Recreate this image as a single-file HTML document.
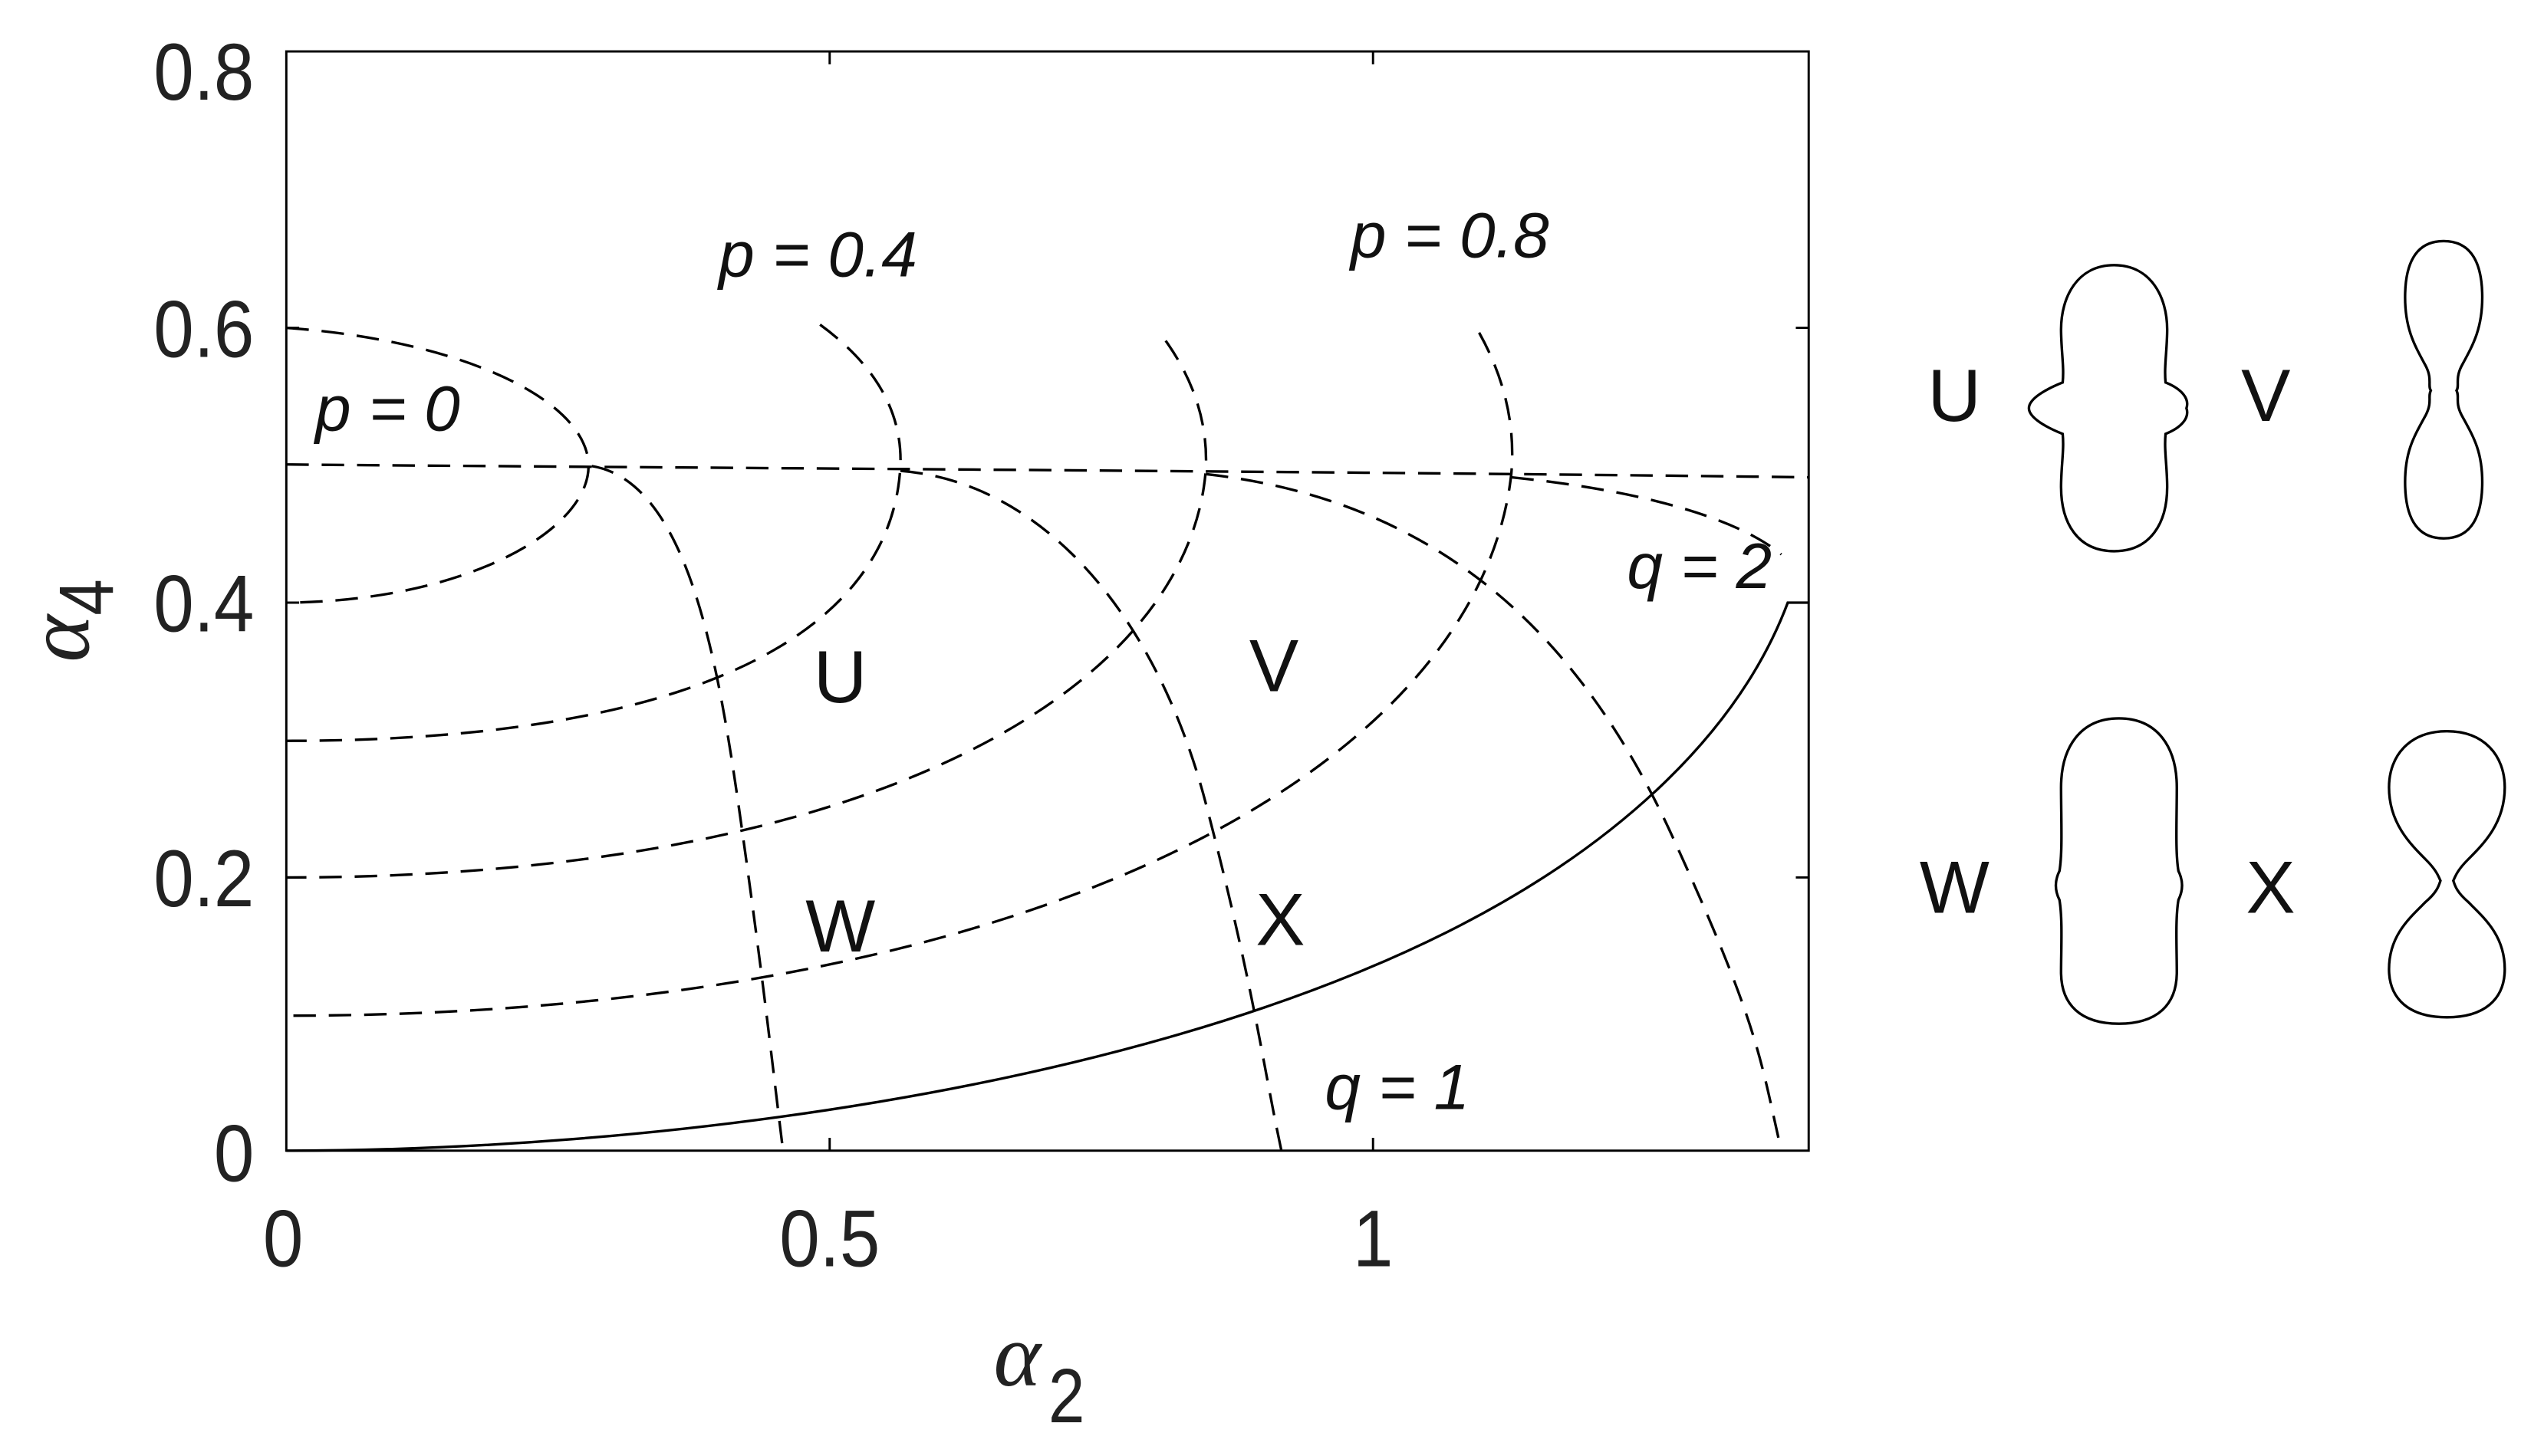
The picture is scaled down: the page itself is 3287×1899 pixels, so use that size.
<!DOCTYPE html>
<html><head><meta charset="utf-8"><style>html,body{margin:0;padding:0;background:#fff}svg{display:block}</style></head>
<body>
<svg width="3287" height="1899" viewBox="0 0 1568 906" xmlns="http://www.w3.org/2000/svg" font-family="Liberation Sans, sans-serif">
<rect x="0" y="0" width="1568" height="906" fill="#fff"/>
<g fill="none" stroke="#000" stroke-width="1.4">
<rect x="178" y="32" width="947" height="684"/>
<path d="M516,716v-8M854,716v-8M516,32v8M854,32v8M178,204h8M178,375h8M178,546h8M1125,204h-8M1125,375h-8M1125,546h-8"/>
</g>
<g fill="none" stroke="#000" stroke-width="1.6" stroke-dasharray="14,8">
<path d="M178,204 C290,212 366,250 366,290 C366,330 290,374 178,375"/>
<path d="M178,289 C400,291 800,293 1125,297"/>
<path d="M510,202 Q562,240 560,290 C555,385 450,461 178,461"/>
<path d="M725,212 Q752,250 750,292 C740,425 550,546 178,546"/>
<path d="M920,207 Q944,250 940,295 C920,475 650,632 178,632"/>
<path d="M368,290 C430,300 448,420 462,520 S480,660 487,716"/>
<path d="M560,293 C650,300 720,385 750,500 S785,660 797,716"/>
<path d="M750,295 C900,312 985,400 1040,520 S1095,660 1108,716"/>
<path d="M940,297 C1020,305 1080,322 1108,345"/>
</g>
<path d="M178,716 C400,716 700,680 900,580 C1000,530 1080,460 1112,375 L1125,375" fill="none" stroke="#000" stroke-width="1.6"/>
<g font-size="50" fill="#222">
<text transform="translate(158,62) scale(0.9,1)" text-anchor="end">0.8</text>
<text transform="translate(158,222) scale(0.9,1)" text-anchor="end">0.6</text>
<text transform="translate(158,393) scale(0.9,1)" text-anchor="end">0.4</text>
<text transform="translate(158,564) scale(0.9,1)" text-anchor="end">0.2</text>
<text transform="translate(158,735) scale(0.9,1)" text-anchor="end">0</text>
<text transform="translate(176,788) scale(0.9,1)" text-anchor="middle">0</text>
<text transform="translate(516,788) scale(0.9,1)" text-anchor="middle">0.5</text>
<text transform="translate(854,788) scale(0.9,1)" text-anchor="middle">1</text>
</g>
<g font-family="Liberation Serif, serif" font-style="italic" fill="#222">
<text x="618" y="862" font-size="56">α</text>
<text transform="translate(652,885) scale(0.85,1)" font-size="48" font-style="normal" font-family="Liberation Sans, sans-serif">2</text>
<text transform="translate(55,412) rotate(-90)" font-size="56">α</text>
<text transform="translate(70,383) rotate(-90) scale(0.85,1)" font-size="48" font-style="normal" font-family="Liberation Sans, sans-serif">4</text>
</g>
<g font-size="40" font-style="italic" fill="#111">
<text x="447" y="172">p = 0.4</text>
<text x="840" y="160">p = 0.8</text>
<text x="196" y="268">p = 0</text>
<text x="1012" y="366">q = 2</text>
<text x="824" y="690">q = 1</text>
</g>
<g font-size="46" fill="#111">
<text x="506" y="437">U</text>
<text x="777" y="430">V</text>
<text x="501" y="592">W</text>
<text x="781" y="588">X</text>
<text x="1199" y="262">U</text>
<text x="1394" y="262">V</text>
<text x="1194" y="568">W</text>
<text x="1397" y="568">X</text>
</g>
<g fill="none" stroke="#000" stroke-width="1.6">
<path d="M1315,165 C1338,165 1348,185 1348,205 C1348,218 1346,228 1347,238 C1357,242 1362,248 1360,254 C1362,260 1357,266 1347,270 C1346,280 1348,290 1348,303 C1348,325 1338,343 1315,343 C1292,343 1282,325 1282,303 C1282,290 1284,280 1283,270 C1273,266 1262,260 1262,254 C1262,248 1273,242 1283,238 C1284,228 1282,218 1282,205 C1282,185 1292,165 1315,165Z"/>
<path d="M1520,150 C1538,150 1544,165 1544,185 C1544,205 1538,215 1531,228 C1527,236 1530,240 1528,243 C1530,247 1527,250 1531,258 C1538,271 1544,280 1544,300 C1544,320 1538,335 1520,335 C1502,335 1496,320 1496,300 C1496,280 1502,271 1509,258 C1513,250 1510,247 1512,243 C1510,240 1513,236 1509,228 C1502,215 1496,205 1496,185 C1496,165 1502,150 1520,150Z"/>
<path d="M1318,447 C1342,447 1354,465 1354,490 C1354,510 1353,530 1355,542 C1358,548 1358,554 1355,560 C1353,572 1354,590 1354,605 C1354,625 1342,637 1318,637 C1294,637 1282,625 1282,605 C1282,590 1283,572 1281,560 C1278,554 1278,548 1281,542 C1283,530 1282,510 1282,490 C1282,465 1294,447 1318,447Z"/>
<path d="M1522,455 C1545,455 1558,470 1558,490 C1558,512 1545,525 1535,535 C1528,542 1527,546 1526,548 C1527,551 1528,555 1535,561 C1545,571 1558,582 1558,603 C1558,622 1545,633 1522,633 C1499,633 1486,622 1486,603 C1486,582 1499,571 1509,561 C1516,555 1517,551 1518,548 C1517,546 1516,542 1509,535 C1499,525 1486,512 1486,490 C1486,470 1499,455 1522,455Z"/>
</g>
</svg>
</body></html>
